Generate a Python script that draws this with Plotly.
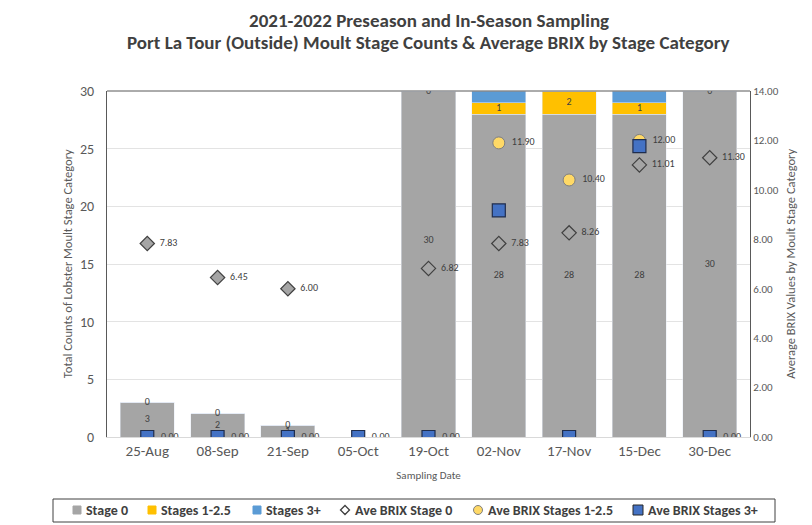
import plotly.graph_objects as go

dates = ["25-Aug", "08-Sep", "21-Sep", "05-Oct", "19-Oct", "02-Nov", "17-Nov", "15-Dec", "30-Dec"]
stage0 = [3, 2, 1, 0, 30, 28, 28, 28, 30]
stage1_25 = [0, 0, 0, 0, 0, 1, 2, 1, 0]
stage3p = [0, 0, 0, 0, 0, 1, 0, 1, 0]
brix_stage0 = [7.83, 6.45, 6.00, None, 6.82, 7.83, 8.26, 11.01, 11.30]
brix_stage1_25 = [None, None, None, None, None, 11.90, 10.40, 12.00, None]
brix_stage3p = [0.00, 0.00, 0.00, 0.00, 0.00, 9.17, 0.00, 11.77, 0.00]
brix3_label_shown = [True, True, True, True, True, False, False, False, True]
series_names = ["Stage 0", "Stages 1-2.5", "Stages 3+",
                "Ave BRIX Stage 0", "Ave BRIX Stages 1-2.5", "Ave BRIX Stages 3+"]
title_lines = ["2021-2022 Preseason and In-Season Sampling",
               "Port La Tour (Outside) Moult Stage Counts & Average BRIX by Stage Category"]
y1_title = "Total Counts of Lobster Moult Stage Category"
y2_title = "Average BRIX Values by Moult Stage Category"

FONT = "Carlito, Calibri, Lato, sans-serif"
GREY = "#A5A5A5"
ORANGE = "#FFC000"
BLUE = "#5B9BD5"
YEL = "#FFD966"
DBLUE = "#4472C4"
TXT = "#595959"
LBL = dict(size=10, color="#404040", family=FONT)
Y1MAX, Y2MAX = 30, 14

# layout geometry (figure pixels)
W, H = 804, 517
ML, MR, MT, MB = 99, 62, 83, 88
PW, PH = W - ML - MR, H - MT - MB


def px2x(fx):
    return (fx - ML) / PW


def px2y(fy):
    return 1 - (fy - MT) / PH


def fmt(v, show=True):
    return f"  {v:.2f}" if (v is not None and show) else ""


# stage-0 label at bar centre, nudged up when it would sit on a BRIX marker
s0_label_y = []
for v, b in zip(stage0, brix_stage0):
    y = v / 2
    if b is not None and v > 0 and abs(y - b * Y1MAX / Y2MAX) < 1.5:
        y += 2
    s0_label_y.append(y)

fig = go.Figure()

fig.add_trace(go.Bar(x=dates, y=stage0, name=series_names[0], marker_color=GREY, hoverinfo="skip"))
fig.add_trace(go.Bar(x=dates, y=stage1_25, name=series_names[1], marker_color=ORANGE, hoverinfo="skip"))
fig.add_trace(go.Bar(x=dates, y=stage3p, name=series_names[2], marker_color=BLUE, hoverinfo="skip"))

# bar data labels
fig.add_trace(go.Scatter(
    x=dates, y=s0_label_y, mode="text", text=[str(v) for v in stage0],
    textfont=LBL, hoverinfo="skip"))
fig.add_trace(go.Scatter(
    x=dates, y=[a + b / 2 for a, b in zip(stage0, stage1_25)], mode="text",
    text=[str(v) for v in stage1_25],
    textfont=LBL, hoverinfo="skip"))

fig.add_trace(go.Scatter(
    x=dates, y=brix_stage0, name=series_names[3], yaxis="y2", mode="markers+text",
    marker=dict(symbol="diamond", size=11, color=GREY, line=dict(color="#404040", width=1.2)),
    text=[fmt(v) for v in brix_stage0], textposition="middle right",
    textfont=LBL, hoverinfo="skip"))
fig.add_trace(go.Scatter(
    x=dates, y=brix_stage1_25, name=series_names[4], yaxis="y2", mode="markers+text",
    marker=dict(symbol="circle", size=12, color=YEL, line=dict(color="#7F7F7F", width=1)),
    text=[fmt(v) for v in brix_stage1_25], textposition="middle right",
    textfont=LBL, hoverinfo="skip"))
fig.add_trace(go.Scatter(
    x=dates, y=brix_stage3p, name=series_names[5], yaxis="y2", mode="markers+text",
    marker=dict(symbol="square", size=13, color=DBLUE, line=dict(color="#1F2D4D", width=1.2)),
    text=[fmt(v, s) for v, s in zip(brix_stage3p, brix3_label_shown)],
    textposition="middle right",
    textfont=LBL, hoverinfo="skip"))

annotations = [
    dict(text=t, xref="paper", yref="paper", x=0.5, y=yy, xanchor="center", yanchor="middle",
         showarrow=False, font=dict(size=19, color="#404040", family=FONT, weight="bold"))
    for t, yy in zip(title_lines, [1.205, 1.139])
]
annotations += [
    dict(text=y1_title, xref="paper", yref="paper", x=-0.062, y=0.5, textangle=-90,
         xanchor="center", yanchor="middle", showarrow=False,
         font=dict(size=12.5, color=TXT, family=FONT)),
    dict(text=y2_title, xref="paper", yref="paper", x=1.062, y=0.5, textangle=-90,
         xanchor="center", yanchor="middle", showarrow=False,
         font=dict(size=12.5, color=TXT, family=FONT)),
]

shapes = [
    dict(type="line", xref="paper", yref="paper", x0=0, x1=1, y0=1, y1=1,
         line=dict(color="#595959", width=1)),
]

# legend drawn as a boxed row at the bottom
LEG_BOX = (45, 491, 767, 514)
LEG_CY = 502
leg_sym_x = [69, 144, 249, 337, 470, 630]
leg_sym = [("sq", GREY, GREY, 4), ("sq", ORANGE, ORANGE, 4), ("sq", BLUE, BLUE, 4),
           ("dia", "white", "#404040", 4.5), ("circ", YEL, "#7F7F7F", 4.5), ("sq", DBLUE, "#262626", 5)]
shapes.append(dict(type="rect", xref="paper", yref="paper",
                   x0=px2x(LEG_BOX[0]), x1=px2x(LEG_BOX[2]),
                   y0=px2y(LEG_BOX[3]), y1=px2y(LEG_BOX[1]),
                   line=dict(color="#404040", width=1), fillcolor="white", layer="below"))
for name, sx, (kind, fill, edge, r) in zip(series_names, leg_sym_x, leg_sym):
    if kind == "sq":
        shapes.append(dict(type="rect", xref="paper", yref="paper",
                           x0=px2x(sx - r), x1=px2x(sx + r), y0=px2y(LEG_CY + r), y1=px2y(LEG_CY - r),
                           fillcolor=fill, line=dict(color=edge, width=1)))
    elif kind == "circ":
        shapes.append(dict(type="circle", xref="paper", yref="paper",
                           x0=px2x(sx - r), x1=px2x(sx + r), y0=px2y(LEG_CY + r), y1=px2y(LEG_CY - r),
                           fillcolor=fill, line=dict(color=edge, width=1)))
    else:
        path = (f"M {px2x(sx - r)},{px2y(LEG_CY)} L {px2x(sx)},{px2y(LEG_CY - r)} "
                f"L {px2x(sx + r)},{px2y(LEG_CY)} L {px2x(sx)},{px2y(LEG_CY + r)} Z")
        shapes.append(dict(type="path", xref="paper", yref="paper", path=path,
                           fillcolor=fill, line=dict(color=edge, width=1.3)))
    annotations.append(dict(text=name, xref="paper", yref="paper", x=px2x(sx + r + 3), y=px2y(LEG_CY),
                            xanchor="left", yanchor="middle", showarrow=False,
                            font=dict(size=14, color="#404040", family=FONT, weight="bold")))

fig.update_layout(
    width=W, height=H,
    margin=dict(l=ML, r=MR, t=MT, b=MB, autoexpand=False),
    paper_bgcolor="white", plot_bgcolor="white",
    barmode="stack", bargap=0.23,
    font=dict(family=FONT, color=TXT),
    annotations=annotations,
    shapes=shapes,
    showlegend=False,
    xaxis=dict(
        type="category", showgrid=False, showline=True, linecolor="#D9D9D9",
        ticks="", tickfont=dict(size=15, color=TXT),
        title=dict(text="Sampling Date", font=dict(size=11, color=TXT), standoff=12)),
    yaxis=dict(
        range=[0, Y1MAX], dtick=5, showgrid=True, gridcolor="#E3E3E3", zeroline=False,
        showline=True, linecolor="#595959", ticks="", tickfont=dict(size=14, color=TXT),
        ticklabelstandoff=9),
    yaxis2=dict(
        overlaying="y", side="right", range=[0, Y2MAX], dtick=2, tickformat=".2f",
        showgrid=False, zeroline=False, showline=True, linecolor="#595959", ticks="",
        tickfont=dict(size=11, color=TXT)),
)

fig.write_html("out.html")
